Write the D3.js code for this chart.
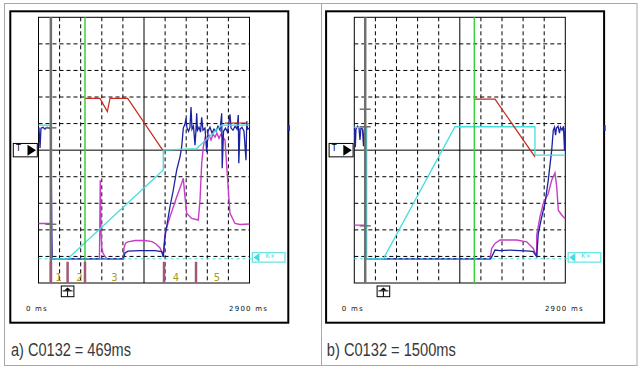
<!DOCTYPE html>
<html>
<head>
<meta charset="utf-8">
<script src="https://cdn.jsdelivr.net/npm/d3@7"></script>
<style>
body { margin: 0; background: #fff; }
svg { display: block; }
</style>
</head>
<body>
<div id="chart"></div>
<script>
// scope time axis (ms) and vertical scale in grid divisions
var timeDomain = [0, 2900];
var levelDomain = [0, 10];
var timeLabels = ["0 ms", "2900 ms"];
var captions = ["a) C0132 = 469ms", "b) C0132 = 1500ms"];

var cursorTime = [170, 150];
var greenTime = [639, 1650];
var triggerTime = [400, 400];
var kLevel = 0.91;
var tLevel = 5;
var cursorTicks = [[5.84, 2.21], [6.54, 5.88, 2.15]];

// phases of panel a
var phaseBars = [170, 400, 639, 1725, 2165];
var phaseNames = ["1", "2", "3", "4", "5"];
var phaseNameTimes = [278, 561, 1042, 1890, 2453];

// panel a traces, [ms, level]
var redA = [[639, 6.95], [845, 6.95], [946, 6.45], [983, 6.95], [1226, 6.95], [1707, 5.0]];
var redTailA = [[2563, 6.02], [2861, 6.02]];
var cyanA = [[0, 5.94], [165, 5.94], [165, 0.91], [401, 0.91], [1715, 4.25], [1715, 5.0],
    [2174, 5.06], [2518, 5.94], [2900, 5.94]];
var blueA = [[0, 5.83], [7, 5.83], [21, 5.08], [34, 5.83], [62, 5.86], [89, 5.79], [117, 5.86],
    [144, 5.83], [172, 5.79], [186, 0.91], [1166, 0.91], [1189, 1.13], [1230, 1.2], [1395, 1.22],
    [1601, 1.22], [1693, 1.18], [1715, 0.98], [1739, 1.74], [1807, 2.87], [1853, 3.5], [1899, 4.25],
    [1945, 4.75], [1968, 5.12], [1990, 5.83], [2013, 5.98], [2027, 6.2], [2041, 5.83], [2062, 5.71],
    [2082, 5.86], [2096, 6.62], [2110, 5.79], [2130, 5.9], [2151, 5.19], [2165, 5.79], [2174, 6.39],
    [2185, 5.75], [2206, 5.86], [2227, 5.68], [2243, 6.24], [2261, 5.75], [2288, 5.83], [2312, 4.92],
    [2330, 5.71], [2357, 5.86], [2385, 5.64], [2412, 5.79], [2440, 5.71], [2467, 5.9], [2495, 5.75],
    [2518, 6.39], [2525, 4.32], [2543, 5.71], [2570, 5.83], [2598, 5.68], [2632, 6.35], [2646, 5.83],
    [2673, 5.75], [2701, 5.9], [2728, 5.79], [2746, 6.32], [2753, 4.51], [2769, 5.79], [2797, 5.86],
    [2824, 5.71], [2852, 4.62], [2862, 6.09], [2873, 5.79], [2900, 5.83]];
var magentaA = [[0, 2.24], [172, 2.24], [186, 0.91], [838, 0.91], [849, 3.87], [859, 1.99],
    [869, 1.36], [886, 1.13], [914, 0.99], [941, 0.91], [1166, 0.91], [1175, 1.32], [1196, 1.5],
    [1230, 1.55], [1326, 1.6], [1464, 1.6], [1560, 1.56], [1615, 1.47], [1670, 1.32], [1715, 1.05],
    [1739, 1.88], [1807, 2.49], [1899, 3.24], [1968, 3.75], [1990, 3.94], [2013, 3.24], [2037, 2.62],
    [2106, 2.43], [2196, 2.37], [2220, 3.12], [2243, 4.5], [2265, 5.12], [2288, 5.45], [2316, 5.3],
    [2343, 5.56], [2371, 5.38], [2398, 5.6], [2426, 5.49], [2453, 5.64], [2481, 5.45], [2508, 5.6],
    [2536, 5.49], [2563, 5.38], [2609, 3.5], [2632, 2.62], [2701, 2.24], [2769, 2.2], [2900, 2.22]];

// panel b traces
var redB = [[1650, 6.92], [1934, 6.92], [2483, 4.75]];
var cyanB = [[0, 5.86], [170, 5.86], [170, 0.91], [399, 0.91], [1384, 5.88], [2483, 5.88],
    [2483, 4.81], [2900, 4.81]];
var blueB = [[3, 5.83], [14, 5.11], [23, 5.79], [44, 5.9], [65, 5.83], [78, 5.38], [92, 5.86],
    [113, 5.79], [126, 5.15], [140, 5.83], [154, 0.91], [1875, 0.91], [1934, 1.24], [2003, 1.22],
    [2140, 1.24], [2277, 1.22], [2415, 1.2], [2460, 1.18], [2507, 0.99], [2529, 1.87], [2576, 2.49],
    [2621, 3.0], [2666, 3.87], [2713, 5.0], [2735, 5.75], [2752, 5.86], [2766, 5.56], [2779, 5.83],
    [2800, 5.9], [2820, 5.64], [2834, 5.86], [2855, 5.75], [2875, 5.9], [2889, 5.0], [2900, 5.83]];
var magentaB = [[0, 2.18], [147, 2.18], [154, 0.91], [1865, 0.91], [1888, 1.3], [1934, 1.49],
    [2003, 1.62], [2232, 1.62], [2369, 1.55], [2460, 1.3], [2507, 0.99], [2507, 1.8], [2552, 2.49],
    [2598, 3.0], [2666, 3.37], [2713, 3.87], [2758, 4.15], [2782, 3.62], [2804, 2.74], [2850, 2.56],
    [2896, 2.43]];

var panels = [
    { red: [redA, redTailA], cyan: cyanA, blue: blueA, magenta: magentaA, phases: true },
    { red: [redB], cyan: cyanB, blue: blueB, magenta: magentaB, phases: false }
];

var colors = { red: '#c8281e', cyan: '#44dede', blue: '#1a22a0', magenta: '#c83cc8',
    green: '#3ccf3c', cursor: '#707070', phase: '#a05a78', phaseText: '#a89a2a' };

var W = 641, H = 370;
var plotW = 211, plotH = 265.7;
var offsets = [0, 315.8];

var svg = d3.select('#chart').append('svg')
    .attr('width', W)
    .attr('height', H);

// grey outer boxes
svg.append('rect').attr('x', 4.5).attr('y', 3.5).attr('width', 317).attr('height', 362)
    .attr('fill', 'none').attr('stroke', '#a8a8a8');
svg.append('rect').attr('x', 321.5).attr('y', 3.5).attr('width', 315.5).attr('height', 362)
    .attr('fill', 'none').attr('stroke', '#a8a8a8');

var x = d3.scaleLinear().domain(timeDomain).range([0, plotW]);
var y = d3.scaleLinear().domain(levelDomain).range([plotH, 0]);
var line = d3.line().x(function (d) { return x(d[0]); }).y(function (d) { return y(d[1]); });

panels.forEach(function (p, i) {
    var g = svg.append('g').attr('transform', `translate(${offsets[i]},0)`);

    g.append('rect').attr('x', 10.3).attr('y', 11.3).attr('width', 278).attr('height', 311.4)
        .attr('fill', 'none').attr('stroke', '#000').attr('stroke-width', 2);

    g.append('text')
        .attr('x', 11).attr('y', 355.5)
        .attr('textLength', i == 0 ? 120 : 129)
        .attr('lengthAdjust', 'spacingAndGlyphs')
        .style('font-family', 'Liberation Sans, Arial, sans-serif')
        .style('font-size', '17.5px')
        .attr('fill', '#383838')
        .text(captions[i]);

    var plot = g.append('g').attr('transform', 'translate(38.5,17.3)');

    // grid
    plot.selectAll('.vgrid').data(d3.range(1, 10).map(function (k) { return k * 290; }))
        .enter().append('line')
        .attr('x1', function (d) { return x(d); }).attr('x2', function (d) { return x(d); })
        .attr('y1', 0).attr('y2', plotH)
        .attr('stroke', '#000')
        .attr('stroke-dasharray', function (d) { return d == 1450 ? null : '4,3'; });
    plot.selectAll('.hgrid').data(d3.range(1, 10))
        .enter().append('line')
        .attr('y1', function (d) { return y(d); }).attr('y2', function (d) { return y(d); })
        .attr('x1', 0).attr('x2', plotW)
        .attr('stroke', '#000')
        .attr('stroke-dasharray', function (d) { return d == 5 ? null : '4,3'; });
    plot.append('rect').attr('width', plotW).attr('height', plotH)
        .attr('fill', 'none').attr('stroke', '#000');

    // traces
    plot.append('path').datum(p.magenta).attr('d', line)
        .attr('fill', 'none').attr('stroke', colors.magenta).attr('stroke-width', 1.4);
    plot.append('path').datum(p.blue).attr('d', line)
        .attr('fill', 'none').attr('stroke', colors.blue).attr('stroke-width', 1.3);
    plot.append('path').datum(p.cyan).attr('d', line)
        .attr('fill', 'none').attr('stroke', colors.cyan).attr('stroke-width', 1.3);
    p.red.forEach(function (r) {
        plot.append('path').datum(r).attr('d', line)
            .attr('fill', 'none').attr('stroke', colors.red).attr('stroke-width', 1.2);
    });

    // K+ reference line
    plot.append('line')
        .attr('x1', 0).attr('x2', 214)
        .attr('y1', y(kLevel)).attr('y2', y(kLevel))
        .attr('stroke', colors.cyan).attr('stroke-dasharray', '3,3');

    // cursors
    plot.append('line')
        .attr('x1', x(greenTime[i])).attr('x2', x(greenTime[i]))
        .attr('y1', 0).attr('y2', plotH)
        .attr('stroke', colors.green).attr('stroke-width', 1.5);
    plot.append('line')
        .attr('x1', x(cursorTime[i])).attr('x2', x(cursorTime[i]))
        .attr('y1', 0).attr('y2', plotH)
        .attr('stroke', colors.cursor).attr('stroke-width', 2.5);
    plot.selectAll('.ctick').data(cursorTicks[i]).enter().append('line')
        .attr('x1', x(cursorTime[i]) - 5.5).attr('x2', x(cursorTime[i]) + 5.5)
        .attr('y1', function (d) { return y(d); }).attr('y2', function (d) { return y(d); })
        .attr('stroke', colors.cursor).attr('stroke-width', 1.5);

    if (p.phases) {
        plot.selectAll('.phase').data(phaseBars).enter().append('line')
            .attr('x1', function (d) { return x(d); }).attr('x2', function (d) { return x(d); })
            .attr('y1', y(0)).attr('y2', y(0.8))
            .attr('stroke', colors.phase).attr('stroke-width', 2.5);
        plot.selectAll('.pname').data(phaseNames).enter().append('text')
            .attr('x', function (d, k) { return x(phaseNameTimes[k]); })
            .attr('y', y(0.08))
            .attr('text-anchor', 'middle')
            .style('font-family', 'DejaVu Sans, sans-serif')
            .style('font-size', '10px')
            .attr('fill', colors.phaseText)
            .text(function (d) { return d; });
    }

    // T marker
    var ty = y(tLevel);
    plot.append('rect').attr('x', -25.2).attr('y', ty - 6.7).attr('width', 24).attr('height', 13.4)
        .attr('fill', '#fff').attr('stroke', '#000');
    plot.append('text').attr('x', -22.5).attr('y', ty + 0.5)
        .style('font-family', 'DejaVu Sans, sans-serif').style('font-size', '8px')
        .attr('fill', '#000').text('T');
    plot.append('path')
        .attr('d', `M${-11},${ty - 5.5}L${-2.5},${ty}L${-11},${ty + 5.5}Z`)
        .attr('fill', '#000');

    // K+ marker
    var ky = y(kLevel) - 1.4;
    plot.append('rect').attr('x', 213.8).attr('y', ky - 4.7).attr('width', 32.7).attr('height', 9.4)
        .attr('fill', '#fff').attr('stroke', colors.cyan);
    plot.append('path')
        .attr('d', `M${215},${ky}L${221},${ky - 4.5}L${221},${ky + 4.5}Z`)
        .attr('fill', colors.cyan);
    plot.append('text').attr('x', 227).attr('y', ky + 0.5)
        .style('font-family', 'DejaVu Sans, sans-serif').style('font-size', '6.5px')
        .attr('fill', colors.cyan).text('K+');

    // trigger marker below the plot
    var tx = x(triggerTime[i]);
    plot.append('rect').attr('x', tx - 6.3).attr('y', 268.7).attr('width', 12.6).attr('height', 10.7)
        .attr('fill', '#fff').attr('stroke', '#000');
    plot.append('path')
        .attr('d', `M${tx - 3.5},${273.3}L${tx},${270.3}L${tx + 3.5},${273.3}Z`)
        .attr('fill', '#000');
    plot.append('line').attr('x1', tx - 5).attr('x2', tx + 5).attr('y1', 273.6).attr('y2', 273.6)
        .attr('stroke', '#000');
    plot.append('line').attr('x1', tx).attr('x2', tx).attr('y1', 273.6).attr('y2', 279.4)
        .attr('stroke', '#000');

    // blue marker on the frame edge
    plot.append('rect').attr('x', 249.3).attr('y', y(blueA[0][1]) - 3).attr('width', 2).attr('height', 6)
        .attr('fill', colors.blue);

    // time labels
    plot.append('text').attr('x', -12.5).attr('y', 293.5)
        .style('font-family', 'DejaVu Sans, sans-serif').style('font-size', '7px')
        .style('letter-spacing', '1.2px')
        .attr('fill', '#111').text(timeLabels[0]);
    plot.append('text').attr('x', 229.5).attr('y', 293.5)
        .attr('text-anchor', 'end')
        .style('font-family', 'DejaVu Sans, sans-serif').style('font-size', '7px')
        .style('letter-spacing', '1.2px')
        .attr('fill', '#111').text(timeLabels[1]);
});
</script>
</body>
</html>
